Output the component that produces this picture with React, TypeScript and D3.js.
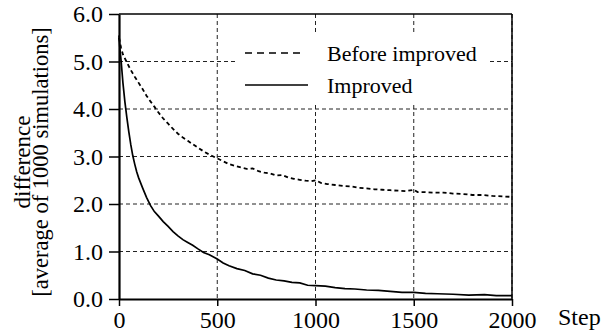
import { useEffect, useRef } from "react";
import * as d3 from "d3";

const beforeSteps = [0, 10, 20, 40, 60, 80, 100, 120, 140, 160, 180, 200, 225, 250, 275, 300, 325, 350, 375, 400, 430, 460, 500, 530, 560, 590, 620, 650, 680, 710, 740, 770, 800, 830, 860, 890, 920, 950, 980, 1000, 1030, 1060, 1100, 1140, 1180, 1220, 1260, 1300, 1340, 1380, 1420, 1460, 1500, 1520, 1560, 1600, 1650, 1700, 1750, 1800, 1850, 1900, 1950, 2000];
const beforeValues = [5.5, 5.3, 5.15, 4.98, 4.82, 4.68, 4.55, 4.42, 4.28, 4.16, 4.05, 3.93, 3.8, 3.69, 3.58, 3.48, 3.4, 3.33, 3.26, 3.19, 3.11, 3.04, 2.96, 2.9, 2.84, 2.8, 2.77, 2.74, 2.75, 2.69, 2.66, 2.64, 2.6, 2.61, 2.56, 2.53, 2.51, 2.49, 2.48, 2.5, 2.44, 2.42, 2.4, 2.38, 2.37, 2.34, 2.33, 2.31, 2.3, 2.29, 2.28, 2.27, 2.3, 2.25, 2.25, 2.24, 2.24, 2.22, 2.21, 2.19, 2.19, 2.17, 2.16, 2.15];

const improvedSteps = [0, 5, 10, 15, 20, 25, 30, 40, 50, 60, 70, 80, 90, 100, 120, 140, 160, 180, 200, 225, 250, 275, 300, 325, 350, 375, 400, 430, 460, 500, 530, 560, 600, 640, 680, 720, 760, 800, 840, 880, 920, 960, 1000, 1050, 1100, 1150, 1200, 1260, 1320, 1380, 1440, 1500, 1560, 1620, 1700, 1780, 1860, 1920, 2000];
const improvedValues = [5.55, 5.25, 5.05, 4.8, 4.55, 4.35, 4.15, 3.82, 3.52, 3.25, 3.02, 2.84, 2.68, 2.55, 2.34, 2.14, 1.97, 1.84, 1.75, 1.63, 1.53, 1.42, 1.33, 1.25, 1.19, 1.13, 1.06, 0.98, 0.93, 0.84, 0.76, 0.7, 0.64, 0.6, 0.53, 0.5, 0.44, 0.4, 0.38, 0.35, 0.34, 0.29, 0.28, 0.27, 0.24, 0.22, 0.21, 0.19, 0.18, 0.16, 0.14, 0.14, 0.12, 0.11, 0.1, 0.08, 0.09, 0.07, 0.07];

const xTicks = [0, 500, 1000, 1500, 2000];
const yTicks = [0, 1, 2, 3, 4, 5, 6];

const App = () => {
  const svgRef = useRef<SVGSVGElement>(null);
  const width = 603;
  const height = 332;

  useEffect(() => {
    const svg = d3.select(svgRef.current);
    svg.selectAll("*").remove();

    const margin = { left: 119, top: 14, right: 91, bottom: 33 };
    const innerWidth = width - margin.left - margin.right;
    const innerHeight = height - margin.top - margin.bottom;
    const font = "'Liberation Serif', 'Times New Roman', serif";

    const x = d3.scaleLinear().domain([0, 2000]).range([0, innerWidth]);
    const y = d3.scaleLinear().domain([0, 6]).range([innerHeight, 0]);

    const g = svg.append("g").attr("transform", `translate(${margin.left},${margin.top})`);

    // grid
    g.selectAll(".hgrid")
      .data(yTicks.filter((d) => d > 0 && d < 6))
      .enter()
      .append("line")
      .attr("x1", 0)
      .attr("x2", innerWidth)
      .attr("y1", (d) => y(d))
      .attr("y2", (d) => y(d))
      .attr("stroke", "#222")
      .attr("stroke-width", 1)
      .attr("stroke-dasharray", "4,3");

    g.selectAll(".vgrid")
      .data(xTicks.filter((d) => d > 0))
      .enter()
      .append("line")
      .attr("x1", (d) => x(d))
      .attr("x2", (d) => x(d))
      .attr("y1", 0)
      .attr("y2", innerHeight)
      .attr("stroke", "#222")
      .attr("stroke-width", 1)
      .attr("stroke-dasharray", "4,3");

    // legend background
    g.append("rect")
      .attr("x", 237 - margin.left)
      .attr("y", 35 - margin.top)
      .attr("width", 251)
      .attr("height", 70)
      .attr("fill", "#fff");

    const line = d3
      .line<[number, number]>()
      .x((d) => x(d[0]))
      .y((d) => y(d[1]));

    const beforeData = beforeSteps.map((s, i) => [s, beforeValues[i]] as [number, number]);
    const improvedData = improvedSteps.map((s, i) => [s, improvedValues[i]] as [number, number]);

    g.append("path")
      .datum(beforeData)
      .attr("fill", "none")
      .attr("stroke", "#000")
      .attr("stroke-width", 1.8)
      .attr("stroke-dasharray", "4,3")
      .attr("d", line);

    g.append("path")
      .datum(improvedData)
      .attr("fill", "none")
      .attr("stroke", "#000")
      .attr("stroke-width", 1.7)
      .attr("d", line);

    // frame
    g.append("line").attr("x1", 0).attr("x2", innerWidth).attr("y1", 0).attr("y2", 0)
      .attr("stroke", "#000").attr("stroke-width", 1.5);
    g.append("line").attr("x1", innerWidth).attr("x2", innerWidth).attr("y1", 0).attr("y2", innerHeight)
      .attr("stroke", "#000").attr("stroke-width", 1.5);

    const xAxis = g.append("g")
      .attr("transform", `translate(0,${innerHeight})`)
      .call(d3.axisBottom(x).tickValues(xTicks).tickFormat(d3.format("d")).tickSize(7).tickSizeOuter(0).tickPadding(5));
    const yAxis = g.append("g")
      .call(d3.axisLeft(y).tickValues(yTicks).tickFormat(d3.format(".1f")).tickSize(10).tickSizeOuter(0).tickPadding(6));

    [xAxis, yAxis].forEach((a) => {
      a.attr("font-family", font).attr("font-size", 24);
      a.select(".domain").attr("stroke", "#000").attr("stroke-width", 2.2);
      a.selectAll(".tick line").attr("stroke", "#000").attr("stroke-width", 1.5);
      a.selectAll("text").attr("font-family", font).attr("font-size", 24).attr("fill", "#000");
    });

    svg.append("text")
      .attr("x", 558)
      .attr("y", 325)
      .attr("font-family", font)
      .attr("font-size", 24)
      .text("Step");

    const yl = svg.append("g").attr("transform", `translate(30,162) rotate(-90)`);
    yl.append("text")
      .attr("text-anchor", "middle")
      .attr("font-family", font)
      .attr("font-size", 23)
      .text("difference");
    yl.append("text")
      .attr("y", 18)
      .attr("text-anchor", "middle")
      .attr("font-family", font)
      .attr("font-size", 22.5)
      .text("[average of 1000 simulations]");

    // legend
    const lg = svg.append("g");
    lg.append("line").attr("x1", 245).attr("x2", 305).attr("y1", 53).attr("y2", 53)
      .attr("stroke", "#000").attr("stroke-width", 1.5).attr("stroke-dasharray", "7,5");
    lg.append("line").attr("x1", 245).attr("x2", 308).attr("y1", 85).attr("y2", 85)
      .attr("stroke", "#000").attr("stroke-width", 1.5);
    lg.append("text").attr("x", 327).attr("y", 61).attr("font-family", font).attr("font-size", 22).text("Before improved");
    lg.append("text").attr("x", 327).attr("y", 93).attr("font-family", font).attr("font-size", 22).text("Improved");
  }, []);

  return (
    <div style={{ position: "absolute", left: 0, top: 0 }}>
      <svg ref={svgRef} width={width} height={height} style={{ display: "block", background: "#fff" }} />
    </div>
  );
};

export default App;
